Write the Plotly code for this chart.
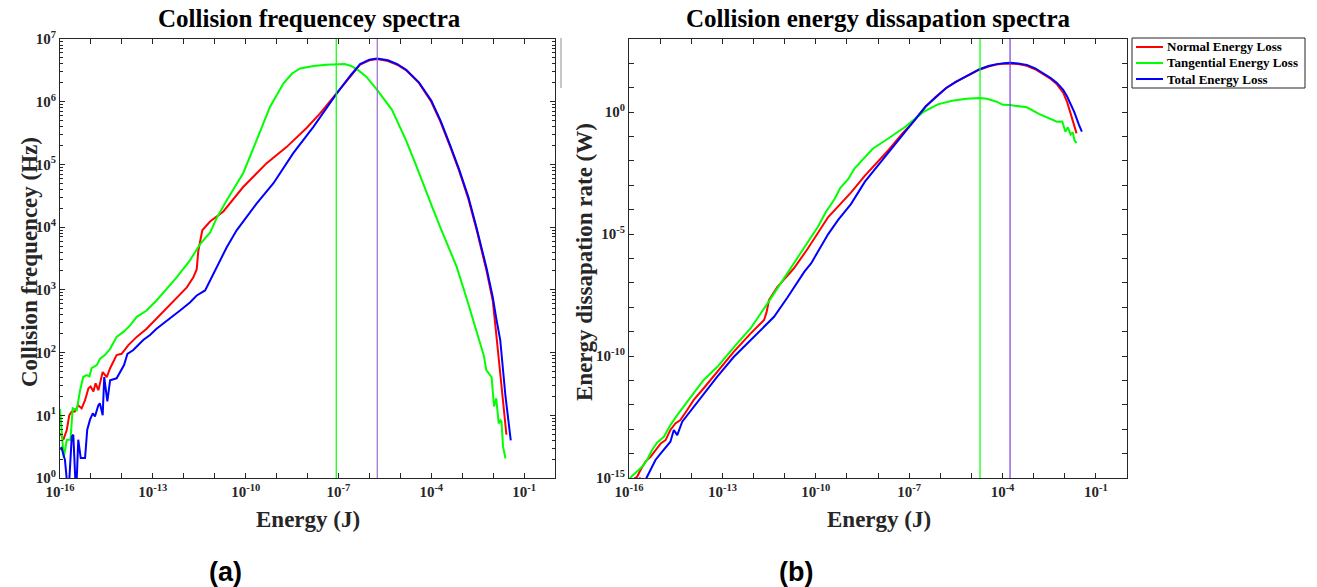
import plotly.graph_objects as go
import numpy as np

# ---------------- data (log10 values) ----------------
# Panel (a): collision frequency spectra
a_tan_logE = [-16.0, -15.94, -15.88, -15.78, -15.66, -15.59, -15.46, -15.35, -15.25, -15.14, -15.05,
              -14.98, -14.81, -14.71, -14.55, -14.38, -14.17, -13.95, -13.74, -13.52, -13.2, -12.88,
              -12.55, -12.23, -11.8, -11.47, -11.14, -10.94, -10.61, -10.08, -9.64, -9.21, -8.78,
              -8.5, -8.24, -7.8, -7.4, -7.06, -6.8, -6.59, -6.35, -6.1, -5.75, -5.27, -5.01, -4.81,
              -4.47, -4.2, -3.93, -3.71, -3.5, -3.18, -2.86, -2.6, -2.43, -2.3, -2.22, -2.1, -2.05,
              -1.97, -1.9, -1.82, -1.76, -1.73, -1.68, -1.6]
a_tan_logF = [1.1, 0.75, 0.32, 0.61, 0.61, 1.11, 1.08, 1.4, 1.61, 1.64, 1.62,
              1.75, 1.8, 1.9, 1.96, 2.06, 2.25, 2.33, 2.43, 2.57, 2.67, 2.83,
              3.02, 3.2, 3.47, 3.73, 3.92, 4.14, 4.43, 4.86, 5.39, 5.92, 6.29,
              6.45, 6.53, 6.57, 6.59, 6.6, 6.6, 6.57, 6.5, 6.4, 6.19, 5.87, 5.6, 5.38,
              4.96, 4.6, 4.27, 4.0, 3.74, 3.37, 2.87, 2.45, 2.15, 1.95, 1.72, 1.65, 1.61,
              1.14, 1.27, 0.87, 0.92, 0.9, 0.5, 0.31]

a_norm_logE = [-16.0, -15.98, -15.89, -15.78, -15.7, -15.62, -15.52, -15.41, -15.3, -15.19, -15.08,
               -15.01, -14.92, -14.85, -14.76, -14.62, -14.49, -14.38, -14.17, -14.01, -13.79, -13.52,
               -13.2, -12.88, -12.55, -12.23, -11.9, -11.69, -11.58, -11.53, -11.47, -11.4, -11.15,
               -10.72, -10.08, -9.32, -8.67, -8.03, -7.6, -7.06, -6.6, -6.3, -6.0, -5.75, -5.4,
               -5.1, -4.81, -4.4, -4.0, -3.7, -3.4, -3.1, -2.8, -2.53, -2.21, -2.01, -1.89,
               -1.75, -1.65, -1.57]
a_norm_logF = [0.68, 0.71, 0.61, 0.77, 1.0, 1.06, 1.06, 1.16, 1.11, 1.24, 1.43,
               1.46, 1.38, 1.51, 1.4, 1.69, 1.61, 1.75, 1.96, 1.98, 2.12, 2.25,
               2.38, 2.54, 2.7, 2.86, 3.04, 3.2, 3.33, 3.62, 3.8, 3.95, 4.09,
               4.25, 4.64, 5.02, 5.28, 5.58, 5.81, 6.13, 6.42, 6.59, 6.66, 6.68, 6.65,
               6.59, 6.5, 6.3, 6.0, 5.68, 5.3, 4.9, 4.45, 3.95, 3.3, 2.82, 2.25,
               1.55, 1.05, 0.69]

a_tot_logE = [-16.0, -15.95, -15.84, -15.73, -15.62, -15.57, -15.48, -15.41, -15.33, -15.19, -15.12,
              -15.03, -14.94, -14.87, -14.76, -14.71, -14.62, -14.57, -14.47, -14.38, -14.17, -14.06,
              -13.93, -13.82, -13.63, -13.31, -13.09, -12.88, -12.66, -12.34, -12.12, -11.8, -11.58,
              -11.31, -11.04, -10.61, -10.29, -9.64, -9.1, -8.46, -7.81, -7.06, -6.59, -6.3, -6.0,
              -5.75, -5.4, -5.1, -4.81, -4.4, -4.0, -3.7, -3.4, -3.1, -2.8, -2.53, -2.21, -2.01,
              -1.9, -1.77, -1.6, -1.43]
a_tot_logF = [0.46, 0.48, 0.29, -0.3, 0.66, 0.69, -0.3, 0.61, 0.32, 0.32, 0.77,
              0.93, 1.03, 0.98, 1.16, 1.19, 1.0, 1.61, 1.22, 1.56, 1.59, 1.69,
              1.8, 1.98, 2.04, 2.2, 2.28, 2.38, 2.46, 2.59, 2.67, 2.8, 2.91,
              2.99, 3.25, 3.68, 3.95, 4.38, 4.7, 5.18, 5.6, 6.13, 6.43, 6.6, 6.67,
              6.69, 6.66, 6.6, 6.51, 6.31, 6.02, 5.7, 5.32, 4.92, 4.48, 3.98, 3.34, 2.88,
              2.55, 2.2, 1.3, 0.6]

a_peak_E = [8.5e-8, 1.8e-6]          # tangential peak, total peak

# Panel (b): collision energy dissipation spectra
b_tan_logE = [-16.0, -15.93, -15.58, -15.42, -15.26, -15.1, -14.88, -14.67, -14.45, -14.24, -13.97,
              -13.6, -13.16, -12.62, -12.09, -11.55, -11.01, -10.58, -10.26, -9.93, -9.68, -9.39,
              -9.21, -8.96, -8.75, -8.42, -8.17, -7.66, -7.12, -6.55, -6.08, -5.62, -5.15, -4.74,
              -4.5, -4.19, -3.99, -3.76, -3.53, -3.22, -2.83, -2.49, -2.25, -2.08, -1.98, -1.9,
              -1.81, -1.74, -1.69, -1.62]
b_tan_logP = [-15.1, -14.95, -14.54, -14.26, -13.85, -13.55, -13.31, -12.83, -12.42, -12.08, -11.6,
              -10.98, -10.44, -9.62, -8.86, -7.84, -6.8, -5.93, -5.35, -4.7, -4.1, -3.55,
              -3.1, -2.75, -2.3, -1.82, -1.5, -1.07, -0.6, 0.0, 0.32, 0.47, 0.55, 0.58,
              0.55, 0.43, 0.3, 0.29, 0.24, 0.2, -0.07, -0.27, -0.39, -0.38, -0.8, -0.62,
              -0.92, -0.82, -1.15, -1.27]

b_norm_logE = [-15.85, -15.74, -15.63, -15.47, -15.31, -15.15, -14.98, -14.82, -14.67, -14.51, -14.35,
               -14.13, -13.92, -13.6, -13.17, -12.63, -12.09, -11.66, -11.58, -11.5, -11.23, -10.7,
               -10.26, -9.6, -8.87, -8.42, -7.66, -7.2, -6.9, -6.47, -6.15, -5.82, -5.5, -5.17,
               -4.74, -4.45, -4.19, -3.95, -3.76, -3.5, -3.22, -2.95, -2.68, -2.45, -2.25, -2.05,
               -1.92, -1.76, -1.62]
b_norm_logP = [-15.05, -14.95, -14.67, -14.33, -14.13, -13.85, -13.58, -13.44, -13.03, -12.76, -12.62,
               -12.21, -11.8, -11.32, -10.64, -9.82, -9.07, -8.52, -8.2, -7.7, -7.16, -6.4,
               -5.6, -4.3, -3.3, -2.6, -1.55, -0.85, -0.45, 0.23, 0.62, 0.98, 1.24, 1.46,
               1.74, 1.87, 1.95, 1.99, 2.0, 1.97, 1.9, 1.76, 1.56, 1.36, 1.14, 0.8,
               0.4, -0.32, -0.87]

b_tot_logE = [-15.85, -15.75, -15.65, -15.55, -15.42, -15.26, -15.15, -14.98, -14.82, -14.67, -14.56,
              -14.45, -14.29, -14.08, -13.81, -13.49, -13.17, -12.63, -12.09, -11.66, -11.34, -10.91,
              -10.37, -10.15, -9.6, -9.28, -8.87, -8.42, -7.55, -7.0, -6.47, -6.15, -5.82, -5.5,
              -5.17, -4.74, -4.45, -4.19, -3.95, -3.76, -3.5, -3.22, -2.95, -2.68, -2.45, -2.25,
              -2.05, -1.92, -1.7, -1.54, -1.45]
b_tot_logP = [-15.0, -15.3, -15.0, -15.3, -14.95, -14.54, -14.26, -13.99, -13.72, -13.51, -13.03,
              -13.24, -12.69, -12.35, -11.87, -11.39, -10.85, -10.03, -9.34, -8.8, -8.39, -7.6,
              -6.55, -6.2, -5.0, -4.42, -3.77, -2.85, -1.45, -0.6, 0.23, 0.62, 0.98, 1.24,
              1.46, 1.76, 1.89, 1.97, 2.01, 2.03, 2.0, 1.94, 1.8, 1.6, 1.4, 1.2,
              0.92, 0.63, 0.02, -0.53, -0.8]

b_peak_E = [1.9e-5, 1.75e-4]         # tangential peak, total peak

series_names = ["Normal Energy Loss", "Tangential Energy Loss", "Total Energy Loss"]
series_colors = ["#ff0000", "#00ff00", "#0000ff"]

a_title = "Collision frequencey spectra"
b_title = "Collision energy dissapation spectra"
a_ylabel = "Collision frequencey (Hz)"
b_ylabel = "Energy dissapation rate (W)"
xlabel = "Energy (J)"

a_yrange = [0, 7]
b_yrange = [-15, 3]
xrange_log = [-16, 0]

# ---------------- figure ----------------
W, H = 1317, 587
SERIF = "Liberation Serif"
AXC = "#262626"


def px(x):
    return x / W


def py(y):
    return 1 - y / H


def pw(v):
    return list(np.power(10.0, v))


fig = go.Figure()

a_sets = [(a_norm_logE, a_norm_logF), (a_tan_logE, a_tan_logF), (a_tot_logE, a_tot_logF)]
b_sets = [(b_norm_logE, b_norm_logP), (b_tan_logE, b_tan_logP), (b_tot_logE, b_tot_logP)]

for i, (e, f) in enumerate(a_sets):
    fig.add_trace(go.Scatter(x=pw(e), y=pw(f), mode="lines", name=series_names[i],
                             line=dict(color=series_colors[i], width=2),
                             xaxis="x", yaxis="y", showlegend=False))
for i, (e, f) in enumerate(b_sets):
    fig.add_trace(go.Scatter(x=pw(e), y=pw(f), mode="lines", name=series_names[i],
                             line=dict(color=series_colors[i], width=2),
                             xaxis="x2", yaxis="y2", showlegend=False))

# peak markers (vertical lines)
vcols_a = ["#00ff00", "#9a6ccc"]
vcols_b = ["#00ff00", "#7a3ee0"]
for v, c in zip(a_peak_E, vcols_a):
    fig.add_trace(go.Scatter(x=[v, v], y=[10 ** a_yrange[0], 10 ** a_yrange[1]], mode="lines",
                             line=dict(color=c, width=1.2), xaxis="x", yaxis="y",
                             showlegend=False, hoverinfo="skip"))
for v, c in zip(b_peak_E, vcols_b):
    fig.add_trace(go.Scatter(x=[v, v], y=[10 ** b_yrange[0], 10 ** b_yrange[1]], mode="lines",
                             line=dict(color=c, width=1.2), xaxis="x2", yaxis="y2",
                             showlegend=False, hoverinfo="skip"))


def sup(k):
    return f"10<sup>{k}</sup>"


# x axes: labelled every 3 decades, plain ticks at the other decades
x_major = [k for k in range(-16, 1) if (k + 16) % 3 == 0]
x_tv = [10.0 ** k for k in x_major]
x_tt = [sup(k) for k in x_major]
x_minor = [10.0 ** k for k in range(-16, 1) if (k + 16) % 3 != 0]

a_y_tv = [10.0 ** k for k in range(0, 8)]
a_y_tt = [sup(k) for k in range(0, 8)]
a_y_minor = [m * 10.0 ** k for k in range(0, 7) for m in range(2, 10)]

b_major = [k for k in range(-15, 4) if k % 5 == 0]
b_y_tv = [10.0 ** k for k in b_major]
b_y_tt = [sup(k) for k in b_major]
b_y_minor = [10.0 ** k for k in range(-15, 4) if k % 5 != 0]

tickfont = dict(family=SERIF, size=15, color=AXC, weight="bold")
common = dict(type="log", showline=True, linecolor=AXC, linewidth=1, mirror="ticks",
              ticks="inside", ticklen=5, tickcolor=AXC, tickwidth=1, showgrid=False,
              zeroline=False, tickfont=tickfont, tickmode="array", automargin=False)


def minor(vals, ln):
    return dict(tickmode="array", tickvals=vals, ticks="inside", ticklen=ln,
                tickcolor=AXC, tickwidth=1, showgrid=False)


ydom = [py(478), py(39)]
fig.update_layout(
    width=W, height=H,
    margin=dict(l=0, r=0, t=0, b=0, autoexpand=False),
    paper_bgcolor="white", plot_bgcolor="white",
    font=dict(family=SERIF, color="#000000"),
    xaxis=dict(domain=[px(60), px(555)], anchor="y", range=xrange_log,
               tickvals=x_tv, ticktext=x_tt, minor=minor(x_minor, 5), **common),
    yaxis=dict(domain=ydom, anchor="x", range=a_yrange, tickvals=a_y_tv, ticktext=a_y_tt,
               minor=minor(a_y_minor, 3), **common),
    xaxis2=dict(domain=[px(629), px(1127)], anchor="y2", range=xrange_log,
                tickvals=x_tv, ticktext=x_tt, minor=minor(x_minor, 5), **common),
    yaxis2=dict(domain=ydom, anchor="x2", range=b_yrange, tickvals=b_y_tv, ticktext=b_y_tt,
                minor=minor(b_y_minor, 5), **common),
    showlegend=False,
)

title_font = dict(family=SERIF, size=25, color="#000000", weight="bold")
label_font = dict(family=SERIF, size=23, color=AXC, weight="bold")
legend_font = dict(family=SERIF, size=13, color="#000000", weight="bold")
ann = [
    dict(text=a_title, x=px(309), y=py(18), font=title_font),
    dict(text=b_title, x=px(878), y=py(18), font=title_font),
    dict(text=xlabel, x=px(308), y=py(519), font=label_font),
    dict(text=xlabel, x=px(879), y=py(519), font=label_font),
    dict(text=a_ylabel, x=px(29), y=py(262), font=label_font, textangle=-90),
    dict(text=b_ylabel, x=px(584), y=py(262), font=label_font, textangle=-90),
    dict(text="(a)", x=px(225), y=py(572),
         font=dict(family="Liberation Sans", size=27, color="#000000", weight="bold")),
    dict(text="(b)", x=px(796), y=py(572),
         font=dict(family="Liberation Sans", size=27, color="#000000", weight="bold")),
]
for a in ann:
    a.update(xref="paper", yref="paper", showarrow=False, xanchor="center", yanchor="middle")

# legend box (drawn to match the compact MATLAB legend)
leg_x0, leg_x1, leg_y0, leg_y1 = 1132, 1305, 38, 88
fig.add_shape(type="rect", xref="paper", yref="paper", x0=px(leg_x0), x1=px(leg_x1),
              y0=py(leg_y1), y1=py(leg_y0), line=dict(color=AXC, width=1), fillcolor="white")
for i, (nm, col) in enumerate(zip(series_names, series_colors)):
    yy = 47 + 16 * i
    fig.add_shape(type="line", xref="paper", yref="paper", x0=px(1136), x1=px(1163),
                  y0=py(yy), y1=py(yy), line=dict(color=col, width=2))
    ann.append(dict(text=nm, x=px(1165), y=py(yy), xref="paper", yref="paper",
                    showarrow=False, xanchor="left", yanchor="middle", font=legend_font))
fig.update_layout(annotations=ann)

fig.add_shape(type="line", xref="paper", yref="paper", x0=px(561), x1=px(561),
              y0=py(38), y1=py(88), line=dict(color="#8c8c8c", width=1))

fig.write_html("out.html")
